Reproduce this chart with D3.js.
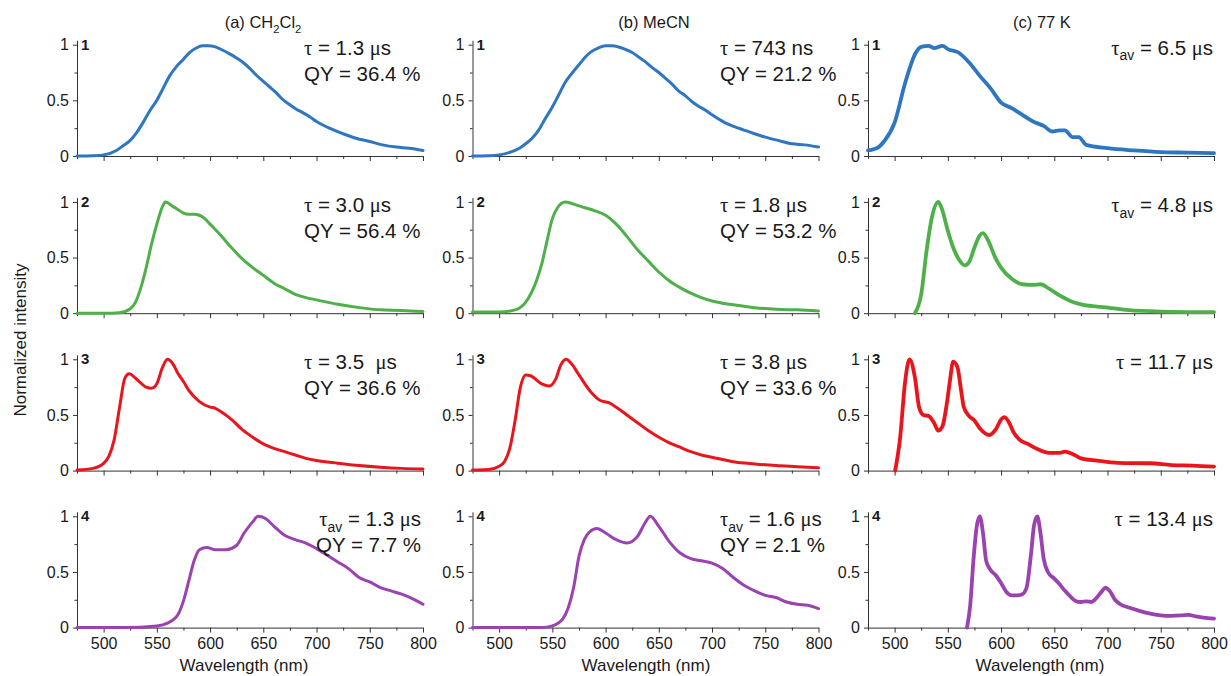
<!DOCTYPE html>
<html>
  <head>
    <meta charset="utf-8">
    <title>Emission spectra</title>
    <script type="text/javascript" src="https://cdn.jsdelivr.net/npm/d3@7"></script>
    <style>
    body {
      margin: 0;
      background: #fff;
    }
    text {
      font-family: Arial, "Liberation Sans", sans-serif;
      fill: #1a1a1a;
    }
    .axis path, .axis line {
      stroke: #333;
      stroke-width: 1;
    }
    .axis text {
      font-size: 16px;
    }
    .spec {
      fill: none;
      stroke-linejoin: round;
      stroke-linecap: round;
    }
    </style>
  </head>
  <body>
    <div id="chart"></div>
    <script type="text/javascript">

      // column titles, row labels, annotations
      var titles = ['(a) CH_{2}Cl_{2}', '(b) MeCN', '(c) 77 K'];
      var rowLabels = ['1', '2', '3', '4'];
      var xTicks = [500, 550, 600, 650, 700, 750, 800];
      var xMinor = [475, 525, 575, 625, 675, 725, 775];
      var yTicks = [0, 0.5, 1];
      var yMinor = [0.25, 0.75];
      var xLabel = 'Wavelength (nm)';
      var yLabel = 'Normalized intensity';

      var notesA = [
        ['τ = 1.3 μs', 'QY = 36.4 %'],
        ['τ = 3.0 μs', 'QY = 56.4 %'],
        ['τ = 3.5  μs', 'QY = 36.6 %'],
        ['τ_{av} = 1.3 μs', 'QY = 7.7 %']];
      var notesB = [
        ['τ = 743 ns', 'QY = 21.2 %'],
        ['τ = 1.8 μs', 'QY = 53.2 %'],
        ['τ = 3.8 μs', 'QY = 33.6 %'],
        ['τ_{av} = 1.6 μs', 'QY = 2.1 %']];
      var notesC = [
        ['τ_{av} = 6.5 μs'],
        ['τ_{av} = 4.8 μs'],
        ['τ = 11.7 μs'],
        ['τ = 13.4 μs']];

      // spectra [wavelength nm, normalized intensity]
      var dcm1 = [[475,0],[490,0.003],[500,0.01],[512,0.05],[518,0.09],[525,0.14],[531,0.21],[537,0.3],[543,0.4],[550,0.5],[556,0.61],[562,0.72],[569,0.81],[575,0.87],[581,0.93],[587,0.97],[593,0.99],[598,0.99],[605,0.98],[612,0.95],[618,0.92],[625,0.88],[631,0.84],[637,0.79],[643,0.73],[650,0.67],[656,0.62],[662,0.57],[668,0.51],[675,0.46],[681,0.42],[687,0.39],[694,0.35],[700,0.31],[712,0.25],[725,0.2],[737,0.16],[750,0.13],[762,0.1],[775,0.08],[787,0.07],[800,0.05]];
      var dcm2 = [[475,0],[500,0],[515,0.005],[525,0.04],[530,0.1],[535,0.23],[540,0.41],[545,0.62],[550,0.8],[555,0.95],[558,1.0],[565,0.96],[570,0.93],[575,0.9],[580,0.89],[585,0.89],[590,0.88],[595,0.85],[600,0.8],[610,0.7],[620,0.59],[630,0.49],[640,0.41],[650,0.34],[660,0.27],[670,0.22],[680,0.17],[690,0.14],[700,0.12],[720,0.08],[740,0.05],[760,0.03],[780,0.025],[800,0.015]];
      var dcm3 = [[475,0.005],[490,0.02],[500,0.065],[505,0.13],[510,0.28],[515,0.57],[520,0.83],[524,0.87],[530,0.83],[540,0.75],[545,0.74],[550,0.78],[555,0.92],[560,1.0],[565,0.96],[570,0.87],[575,0.8],[580,0.72],[590,0.62],[600,0.57],[605,0.56],[610,0.53],[620,0.46],[630,0.37],[640,0.3],[650,0.24],[660,0.2],[670,0.17],[680,0.14],[690,0.11],[700,0.09],[720,0.066],[740,0.045],[760,0.03],[780,0.02],[800,0.015]];
      var dcm4 = [[475,0],[520,0],[550,0.015],[560,0.04],[570,0.12],[575,0.24],[580,0.42],[585,0.6],[590,0.7],[597,0.72],[605,0.7],[615,0.7],[625,0.74],[632,0.85],[640,0.95],[645,1.0],[652,0.98],[660,0.91],[670,0.83],[680,0.79],[690,0.76],[700,0.71],[710,0.65],[720,0.59],[730,0.53],[740,0.45],[750,0.41],[760,0.36],[770,0.33],[780,0.3],[790,0.26],[800,0.21]];

      var mecn1 = [[475,0],[490,0.003],[500,0.01],[512,0.04],[519,0.07],[525,0.11],[531,0.16],[537,0.23],[543,0.33],[550,0.44],[556,0.55],[562,0.66],[569,0.75],[575,0.82],[581,0.89],[587,0.94],[593,0.97],[600,0.99],[606,0.99],[612,0.98],[618,0.96],[625,0.93],[631,0.89],[637,0.85],[643,0.8],[650,0.75],[656,0.7],[662,0.65],[668,0.59],[675,0.54],[681,0.49],[687,0.45],[694,0.41],[700,0.37],[712,0.3],[725,0.25],[737,0.21],[750,0.17],[762,0.14],[775,0.11],[787,0.1],[800,0.08]];
      var mecn2 = [[475,0.01],[500,0.01],[515,0.03],[525,0.1],[535,0.29],[540,0.44],[545,0.65],[550,0.85],[555,0.95],[562,1.0],[570,0.98],[580,0.95],[590,0.92],[600,0.88],[610,0.8],[620,0.69],[630,0.57],[640,0.47],[650,0.37],[660,0.29],[670,0.23],[680,0.18],[690,0.14],[700,0.11],[720,0.075],[740,0.05],[760,0.035],[780,0.03],[800,0.02]];
      var mecn3 = [[475,0.005],[490,0.01],[500,0.04],[505,0.08],[510,0.2],[515,0.45],[520,0.75],[525,0.86],[530,0.85],[540,0.78],[547,0.76],[553,0.82],[558,0.95],[563,1.0],[568,0.96],[575,0.86],[585,0.72],[595,0.63],[603,0.61],[610,0.57],[620,0.5],[630,0.43],[640,0.36],[650,0.3],[660,0.25],[670,0.21],[680,0.17],[690,0.14],[700,0.12],[720,0.08],[740,0.06],[760,0.045],[780,0.035],[800,0.025]];
      var mecn4 = [[475,0],[540,0],[550,0.015],[560,0.08],[565,0.18],[570,0.36],[575,0.64],[580,0.79],[585,0.86],[592,0.89],[600,0.85],[610,0.79],[620,0.76],[630,0.82],[637,0.94],[642,1.0],[650,0.91],[660,0.77],[670,0.67],[680,0.62],[690,0.6],[700,0.58],[710,0.53],[720,0.45],[730,0.38],[740,0.33],[750,0.29],[760,0.27],[770,0.23],[780,0.21],[790,0.2],[800,0.17]];

      var k77_1 = [[475,0.05],[485,0.08],[490,0.13],[500,0.3],[510,0.66],[520,0.93],[525,0.98],[532,0.99],[537,0.97],[545,0.99],[550,0.96],[560,0.93],[570,0.84],[580,0.72],[590,0.61],[600,0.48],[610,0.43],[620,0.37],[630,0.31],[640,0.27],[648,0.22],[655,0.23],[660,0.23],[667,0.17],[673,0.17],[680,0.1],[700,0.07],[725,0.05],[750,0.035],[775,0.03],[800,0.025]];
      var k77_2 = [[519,0],[525,0.17],[530,0.56],[535,0.86],[541,1.0],[545,0.92],[550,0.74],[555,0.59],[560,0.49],[566,0.43],[570,0.46],[575,0.59],[580,0.7],[583,0.72],[588,0.65],[595,0.49],[600,0.41],[610,0.31],[620,0.26],[630,0.255],[637,0.26],[645,0.22],[655,0.16],[665,0.11],[675,0.08],[690,0.06],[700,0.05],[720,0.027],[750,0.015],[800,0.01]];
      var k77_3 = [[500.5,0],[505,0.28],[510,0.81],[514,1.0],[519,0.84],[523,0.57],[527,0.5],[532,0.49],[537,0.43],[541,0.36],[545,0.4],[549,0.6],[552,0.81],[555,0.98],[559,0.93],[562,0.75],[565,0.57],[570,0.49],[575,0.45],[580,0.38],[589,0.32],[595,0.37],[600,0.46],[603,0.48],[607,0.44],[612,0.34],[617,0.28],[625,0.24],[635,0.19],[645,0.16],[655,0.16],[660,0.17],[667,0.15],[675,0.11],[690,0.09],[710,0.07],[740,0.066],[760,0.05],[780,0.045],[800,0.036]];
      var k77_4 = [[568,0],[571,0.2],[574,0.6],[577,0.9],[580,1.0],[583,0.85],[586,0.6],[590,0.52],[595,0.47],[600,0.4],[605,0.32],[610,0.29],[615,0.29],[620,0.3],[624,0.36],[628,0.65],[631,0.92],[634,1.0],[637,0.85],[640,0.62],[644,0.5],[650,0.44],[655,0.39],[660,0.33],[665,0.28],[670,0.24],[675,0.23],[680,0.235],[685,0.23],[690,0.27],[695,0.33],[698,0.36],[702,0.33],[707,0.25],[712,0.21],[720,0.18],[730,0.15],[740,0.125],[750,0.11],[760,0.105],[770,0.11],[776,0.115],[783,0.1],[790,0.09],[800,0.08]];

      var spectra = [
        [dcm1, dcm2, dcm3, dcm4],
        [mecn1, mecn2, mecn3, mecn4],
        [k77_1, k77_2, k77_3, k77_4]];
      var notes = [notesA, notesB, notesC];

      var rowColor = ['#2f76c0', '#4fb04a', '#e8161c', '#9a43b0'];

      ////////////
      // layout //
      ////////////
      var width = 1231, height = 676;
      var colX = [77, 472.5, 868];
      var plotW = 346;
      var rowY0 = [156, 313.2, 470.6, 627.6];
      var unitH = 111.3;
      var lineW = [3, 3, 3.8];
      var titleX = [263, 654, 1042];
      var xLabelX = [244, 646, 1040];
      var noteX = [[304, 304, 304, 421], [720, 720, 720, 720], [1213, 1213, 1213, 1213]];
      var noteAnchor = [['start', 'start', 'start', 'end'],
                        ['start', 'start', 'start', 'start'],
                        ['end', 'end', 'end', 'end']];

      var svg = d3.select('#chart').append('svg')
        .attr('width', width)
        .attr('height', height);
      svg.append('rect')
        .attr('width', width)
        .attr('height', height)
        .attr('fill', '#fff');

      // text with _{sub} and serif greek letters
      function rich(t, str, fs) {
        var shifted = false;
        str.split(/(_\{[^}]*\})/).forEach(function(p) {
          if (!p) return;
          if (p.indexOf('_{') === 0) {
            t.append('tspan')
              .attr('dy', fs * 0.28)
              .attr('font-size', fs * 0.68)
              .text(p.slice(2, -1));
            shifted = true;
          } else {
            p.split(/([τμ])/).forEach(function(q) {
              if (!q) return;
              var s = t.append('tspan').text(q);
              if (shifted) { s.attr('dy', -fs * 0.28); shifted = false; }
              if (/[τμ]/.test(q)) s.style('font-family', '"Liberation Serif", "Times New Roman", serif');
            });
          }
        });
      }

      spectra.forEach(function(col, c) {
        var x = d3.scaleLinear().domain([475, 800]).range([colX[c], colX[c] + plotW]);

        col.forEach(function(data, r) {
          var y = d3.scaleLinear().domain([0, 1]).range([rowY0[r], rowY0[r] - unitH]);
          var yAx = d3.scaleLinear().domain([0, 1.04]).range([rowY0[r], rowY0[r] - unitH * 1.04]);
          var g = svg.append('g');

          // y axis
          g.append('g')
            .attr('class', 'axis')
            .attr('transform', 'translate(' + colX[c] + ',0)')
            .call(d3.axisLeft(yAx).tickValues(yTicks).tickSize(4).tickSizeOuter(0).tickPadding(4)
              .tickFormat(function(d) { return d === 0.5 ? '0.5' : d; }));
          g.append('g')
            .attr('class', 'axis')
            .attr('transform', 'translate(' + colX[c] + ',0)')
            .call(d3.axisLeft(yAx).tickValues(yMinor).tickSize(2.5).tickFormat(''))
            .select('.domain').remove();

          // x axis
          var xa = g.append('g')
            .attr('class', 'axis')
            .attr('transform', 'translate(0,' + rowY0[r] + ')')
            .call(d3.axisBottom(x).tickValues(xTicks).tickSize(5).tickSizeOuter(0).tickPadding(5));
          if (r < 3) xa.selectAll('text').remove();
          g.append('g')
            .attr('class', 'axis')
            .attr('transform', 'translate(0,' + rowY0[r] + ')')
            .call(d3.axisBottom(x).tickValues(xMinor).tickSize(3).tickFormat(''))
            .select('.domain').remove();

          // spectrum
          var line = d3.line()
            .x(function(d) { return x(d[0]); })
            .y(function(d) { return y(d[1]); })
            .curve(d3.curveMonotoneX);
          g.append('path')
            .datum(data)
            .attr('class', 'spec')
            .attr('stroke', rowColor[r])
            .attr('stroke-width', lineW[c])
            .attr('d', line);

          // row number
          g.append('text')
            .attr('x', colX[c] + 4)
            .attr('y', y(1) + 5)
            .attr('font-size', 15)
            .attr('font-weight', 'bold')
            .text(rowLabels[r]);

          // lifetime / QY notes
          notes[c][r].forEach(function(str, k) {
            var t = g.append('text')
              .attr('x', noteX[c][r])
              .attr('y', y(1) + 10 + k * 26)
              .attr('font-size', 20.5)
              .attr('text-anchor', noteAnchor[c][r])
              .style('white-space', 'pre');
            rich(t, str, 20.5);
          });
        });

        // column title
        var tt = svg.append('text')
          .attr('x', titleX[c])
          .attr('y', 28)
          .attr('font-size', 16.5)
          .attr('text-anchor', 'middle');
        rich(tt, titles[c], 16.5);

        svg.append('text')
          .attr('x', xLabelX[c])
          .attr('y', 671)
          .attr('font-size', 17)
          .attr('text-anchor', 'middle')
          .text(xLabel);
      });

      svg.append('text')
        .attr('transform', 'translate(26,340) rotate(-90)')
        .attr('font-size', 17)
        .attr('text-anchor', 'middle')
        .text(yLabel);
    </script>
  </body>
</html>
